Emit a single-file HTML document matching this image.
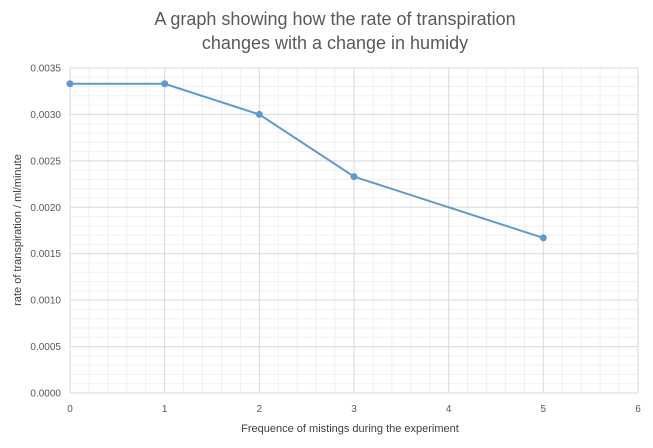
<!DOCTYPE html>
<html><head><meta charset="utf-8"><style>
body{margin:0;background:#fff;font-family:"Liberation Sans",sans-serif}
</style></head><body>
<svg width="653" height="443" xmlns="http://www.w3.org/2000/svg">
<rect width="653" height="443" fill="#fff"/>
<text x="335" y="25" text-anchor="middle" font-size="18" fill="#595959">A graph showing how the rate of transpiration</text>
<text x="335" y="49" text-anchor="middle" font-size="18" fill="#595959">changes with a change in humidy</text>
<g id="grid"></g>
<g id="axes"></g>
<g id="series"></g>
<text x="350" y="432" text-anchor="middle" font-size="11" fill="#404040">Frequence of mistings during the experiment</text>
<text transform="translate(21,230) rotate(-90)" text-anchor="middle" font-size="11" fill="#404040">rate of transpiration / ml/minute</text>
</svg>
<script>
const xValues=[0,1,2,3,5];
const yValues=[0.00333,0.00333,0.003,0.00233,0.00167];
const xTicks=[0,1,2,3,4,5,6];
const yTicks=["0.0000","0.0005","0.0010","0.0015","0.0020","0.0025","0.0030","0.0035"];
const X0=70,X1=638,Y0=393,Y1=68,XMAX=6,YMAX=0.0035;
const sx=v=>X0+(X1-X0)*v/XMAX, sy=v=>Y0-(Y0-Y1)*v/YMAX;
const NS="http://www.w3.org/2000/svg";
function mk(t,a,p){const e=document.createElementNS(NS,t);for(const k in a)e.setAttribute(k,a[k]);p.appendChild(e);return e;}
const g=document.getElementById('grid'),ax=document.getElementById('axes'),s=document.getElementById('series');
for(let i=0;i<=30;i++){const x=sx(i*0.2);if(i%5){const l=mk('line',{x1:x,x2:x,y1:Y1,y2:Y0,stroke:'#f0f0f0'},g);}}
for(let i=0;i<=35;i++){const y=sy(i*0.0001);if(i%5){const l=mk('line',{x1:X0,x2:X1,y1:y,y2:y,stroke:'#f0f0f0'},g);}}
xTicks.forEach(v=>{const x=sx(v);const l=mk('line',{x1:x,x2:x,y1:Y1,y2:Y0,stroke:'#d9d9d9'},g);
const t=mk('text',{x:x,y:412,'text-anchor':'middle','font-size':10,fill:'#595959'},ax);t.textContent=v;});
yTicks.forEach(v=>{const y=sy(parseFloat(v));const l=mk('line',{x1:X0,x2:X1,y1:y,y2:y,stroke:'#d9d9d9'},g);
const t=mk('text',{x:61,y:y+3.5,'text-anchor':'end','font-size':10,fill:'#595959'},ax);t.textContent=v;});
const pts=xValues.map((v,i)=>sx(v)+','+sy(yValues[i])).join(' ');
const pl=mk('polyline',{points:pts,fill:'none',stroke:'#5b9bd5','stroke-width':2},s);

xValues.forEach((v,i)=>{const c=mk('circle',{cx:sx(v),cy:sy(yValues[i]),r:3.5,fill:'#5b9bd5'},s);});
</script>
</body></html>
